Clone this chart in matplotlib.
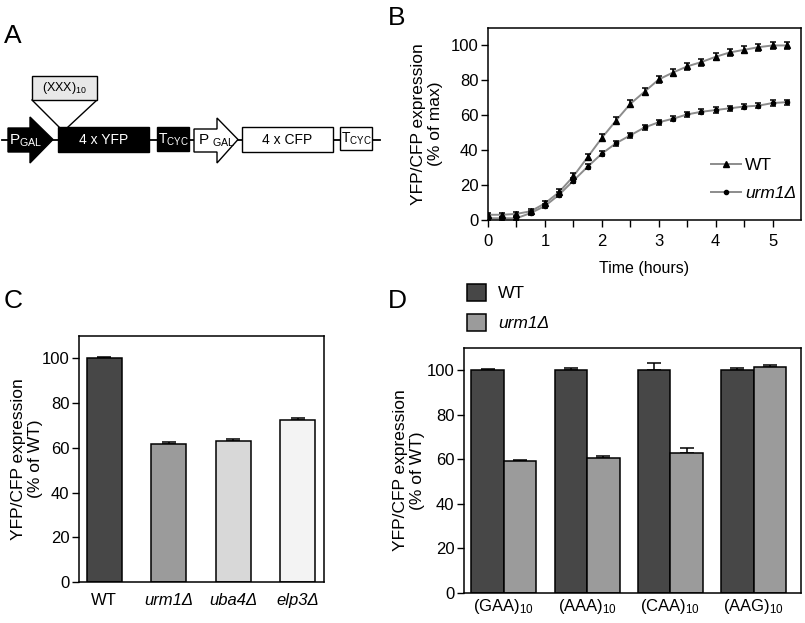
import matplotlib
matplotlib.use("Agg")
import matplotlib.pyplot as plt
from matplotlib.patches import Rectangle, Polygon
from matplotlib.lines import Line2D
import numpy as np

plt.rcParams['font.family'] = ['Liberation Sans', 'DejaVu Sans']
plt.rcParams['mathtext.fontset'] = 'custom'
plt.rcParams['mathtext.rm'] = 'Liberation Sans'
plt.rcParams['mathtext.it'] = 'Liberation Sans:italic'
plt.rcParams['font.size'] = 12

TICK_FS = 12
XLAB_FS = 11.5
YLAB_FS = 12.5
LEG_FS = 12.5

# ---------------- data ----------------
time_h = [0, 0.25, 0.5, 0.75, 1, 1.25, 1.5, 1.75, 2, 2.25, 2.5, 2.75, 3,
          3.25, 3.5, 3.75, 4, 4.25, 4.5, 4.75, 5, 5.25]
wt_curve = [3, 3, 3.5, 5, 9.5, 16, 25, 36, 47, 57, 66.5, 73.5, 80.5,
            84.5, 88, 90.5, 93.5, 96, 97.5, 99, 100, 100]
wt_curve_err = [1.2, 1.2, 1.2, 1.2, 1.5, 1.5, 1.8, 1.8, 2, 2, 2, 2, 2,
                2, 2, 2, 2, 2, 2, 2, 2, 2]
urm_curve = [1, 1, 1, 4, 8, 14.5, 22.5, 30.5, 38, 44, 48.5, 53, 56,
             58, 60.5, 62, 63, 64, 65, 65.5, 67, 67.5]
urm_curve_err = [1, 1, 1, 1.2, 1.2, 1.3, 1.5, 1.5, 1.5, 1.5, 1.5, 1.5, 1.5,
                 1.5, 1.5, 1.5, 1.5, 1.5, 1.5, 1.5, 1.5, 1.5]

c_labels = ['WT', 'urm1Δ', 'uba4Δ', 'elp3Δ']
c_values = [100, 61.5, 63, 72.5]
c_err = [0.8, 1.2, 0.8, 1.0]
c_colors = ['#474747', '#9b9b9b', '#d8d8d8', '#f3f3f3']

d_labels = [r'(GAA)$_{10}$', r'(AAA)$_{10}$', r'(CAA)$_{10}$', r'(AAG)$_{10}$']
d_series = ['WT', 'urm1Δ']
d_wt = [100, 100, 100, 100]
d_wt_err = [0.7, 0.8, 3.3, 1.0]
d_urm = [59.2, 60.7, 63.0, 101.5]
d_urm_err = [0.6, 0.7, 2.3, 0.8]

W, H = 805, 623
fig = plt.figure(figsize=(W / 100, H / 100), dpi=100)

def px_axes(left, top, right, bottom):
    return fig.add_axes([left / W, 1 - bottom / H, (right - left) / W, (bottom - top) / H])

# ---------------- Panel A (diagram, pixel coordinates) ----------------
axA = fig.add_axes([0, 0, 1, 1])
axA.set_xlim(0, W)
axA.set_ylim(H, 0)
axA.axis('off')
axA.set_zorder(-1)
yc = 139.5
axA.plot([2, 380], [yc, yc], color='black', lw=1.3, zorder=1)
# black promoter arrow
axA.add_patch(Polygon([[8, 128], [30, 128], [30, 117], [53, yc], [30, 163], [30, 152], [8, 152]],
                      closed=True, fc='black', ec='black', lw=1, zorder=2))
axA.text(26, 141, r'P$_{\mathrm{GAL}}$', color='white', ha='center', va='center', fontsize=11)
# 4 x YFP
axA.add_patch(Rectangle((58, 127), 91, 25, fc='black', ec='black', lw=1, zorder=2))
axA.text(103.5, 140, '4 x YFP', color='white', ha='center', va='center', fontsize=10)
# inset
axA.plot([32, 59], [100, 127], color='black', lw=1, zorder=1)
axA.plot([97, 68], [100, 127], color='black', lw=1, zorder=1)
axA.add_patch(Rectangle((32, 76), 65, 24, fc='#e8e8e8', ec='black', lw=1, zorder=2))
axA.text(64.5, 88, r'(XXX)$_{10}$', color='black', ha='center', va='center', fontsize=9)
# black terminator
axA.add_patch(Rectangle((157, 127), 32, 24, fc='black', ec='black', lw=1, zorder=2))
axA.text(173, 140, r'T$_{\mathrm{CYC}}$', color='white', ha='center', va='center', fontsize=10)
# white promoter arrow
axA.add_patch(Polygon([[194, 129], [217, 129], [217, 118], [238, yc], [217, 163], [217, 152], [194, 152]],
                      closed=True, fc='white', ec='black', lw=1, zorder=2))
axA.text(198, 141, r'P $_{\mathrm{GAL}}$', color='black', ha='left', va='center', fontsize=11)
# 4 x CFP
axA.add_patch(Rectangle((242, 127), 91, 25, fc='white', ec='black', lw=1, zorder=2))
axA.text(287.5, 140, '4 x CFP', color='black', ha='center', va='center', fontsize=10)
# white terminator
axA.add_patch(Rectangle((340, 127), 32, 23, fc='white', ec='black', lw=1, zorder=2))
axA.text(356, 139, r'T$_{\mathrm{CYC}}$', color='black', ha='center', va='center', fontsize=10)

# panel letters
for lab, x, y in [('A', 13, 36), ('B', 397, 18), ('C', 13, 301), ('D', 397, 301)]:
    axA.text(x, y, lab, fontsize=19, ha='center', va='center')

def style_axis(ax):
    for s in ax.spines.values():
        s.set_linewidth(1.1)
    ax.tick_params(direction='out', length=5, width=1, labelsize=TICK_FS, pad=2)

# ---------------- Panel B ----------------
axB = px_axes(488, 28, 801, 220)
line_col = '#8c8c8c'
axB.plot(time_h, wt_curve, color=line_col, lw=1.4, zorder=2)
axB.plot(time_h, urm_curve, color=line_col, lw=1.4, zorder=2)
axB.errorbar(time_h, wt_curve, yerr=wt_curve_err, fmt='^', color='black', ms=3.8,
             ecolor='black', elinewidth=1.1, capsize=2.3, capthick=1.1, zorder=3)
axB.errorbar(time_h, urm_curve, yerr=urm_curve_err, fmt='o', color='black', ms=3.0,
             ecolor='black', elinewidth=1.1, capsize=2.3, capthick=1.1, zorder=3)
axB.set_xlim(0, 5.5)
axB.set_ylim(0, 110)
axB.set_xticks([0, 1, 2, 3, 4, 5])
axB.set_xticks(np.arange(0.5, 5.5, 1.0), minor=True)
axB.set_yticks([0, 20, 40, 60, 80, 100])
style_axis(axB)
axB.tick_params(which='minor', direction='out', length=5, width=1)
axB.tick_params(axis='x', pad=5)
axB.set_xlabel('Time (hours)', fontsize=XLAB_FS, labelpad=9)
axB.set_ylabel('YFP/CFP expression\n(% of max)', fontsize=YLAB_FS)
axB.yaxis.set_label_coords((443 - 488) / 313, 0.5)
hB = [Line2D([], [], color=line_col, lw=1.4, marker='^', ms=3.8, mfc='black', mec='black'),
      Line2D([], [], color=line_col, lw=1.4, marker='o', ms=3.0, mfc='black', mec='black')]
legB = axB.legend(hB, ['WT', 'urm1Δ'], loc='upper left', frameon=False,
                  bbox_to_anchor=(711 / W, 1 - 158 / H), bbox_transform=fig.transFigure,
                  borderpad=0, borderaxespad=0, handlelength=1.7, handletextpad=0.25,
                  labelspacing=0.75, fontsize=LEG_FS)
legB.get_texts()[1].set_style('italic')

# ---------------- Panel C ----------------
axC = px_axes(79, 336, 324, 582)
xc = np.arange(len(c_labels))
axC.bar(xc, c_values, width=0.54, color=c_colors, edgecolor='black', linewidth=1.1, zorder=2)
axC.errorbar(xc, c_values, yerr=[[0] * len(c_err), c_err], fmt='none', ecolor='black',
             elinewidth=1.1, capsize=5, capthick=1.1, zorder=1)
axC.set_xlim(-0.39, 3.41)
axC.set_ylim(0, 110)
axC.set_yticks([0, 20, 40, 60, 80, 100])
axC.set_xticks(xc)
axC.set_xticklabels(c_labels)
for i, t in enumerate(axC.get_xticklabels()):
    if i > 0:
        t.set_style('italic')
style_axis(axC)
axC.tick_params(axis='x', length=0, pad=8)
axC.set_ylabel('YFP/CFP expression\n(% of WT)', fontsize=YLAB_FS)
axC.yaxis.set_label_coords((43 - 79) / 245, 0.5)

# ---------------- Panel D ----------------
axD = px_axes(464, 348, 801, 593)
xd = np.arange(len(d_labels))
bw = 0.39
axD.bar(xd - bw / 2, d_wt, width=bw, color='#474747', edgecolor='black', linewidth=1.1,
        zorder=2, label=d_series[0])
axD.bar(xd + bw / 2, d_urm, width=bw, color='#9b9b9b', edgecolor='black', linewidth=1.1,
        zorder=2, label=d_series[1])
axD.errorbar(xd - bw / 2, d_wt, yerr=[[0] * 4, d_wt_err], fmt='none', ecolor='black',
             elinewidth=1.1, capsize=5, capthick=1.1, zorder=1)
axD.errorbar(xd + bw / 2, d_urm, yerr=[[0] * 4, d_urm_err], fmt='none', ecolor='black',
             elinewidth=1.1, capsize=5, capthick=1.1, zorder=1)
axD.set_xlim(-0.48, 3.57)
axD.set_ylim(0, 110)
axD.set_yticks([0, 20, 40, 60, 80, 100])
axD.set_xticks(xd)
axD.set_xticklabels(d_labels)
style_axis(axD)
axD.tick_params(axis='x', length=0, pad=3)
axD.set_ylabel('YFP/CFP expression\n(% of WT)', fontsize=YLAB_FS)
axD.yaxis.set_label_coords((425 - 464) / 337, 0.5)
legD = axD.legend(loc='upper left', frameon=False,
                  bbox_to_anchor=(467 / W, 1 - 284 / H), bbox_transform=fig.transFigure,
                  borderpad=0, borderaxespad=0, handlelength=1.1, handleheight=1.1,
                  handletextpad=0.7, labelspacing=0.75, fontsize=LEG_FS)
legD.get_texts()[1].set_style('italic')

fig.savefig('out.png', dpi=100)
